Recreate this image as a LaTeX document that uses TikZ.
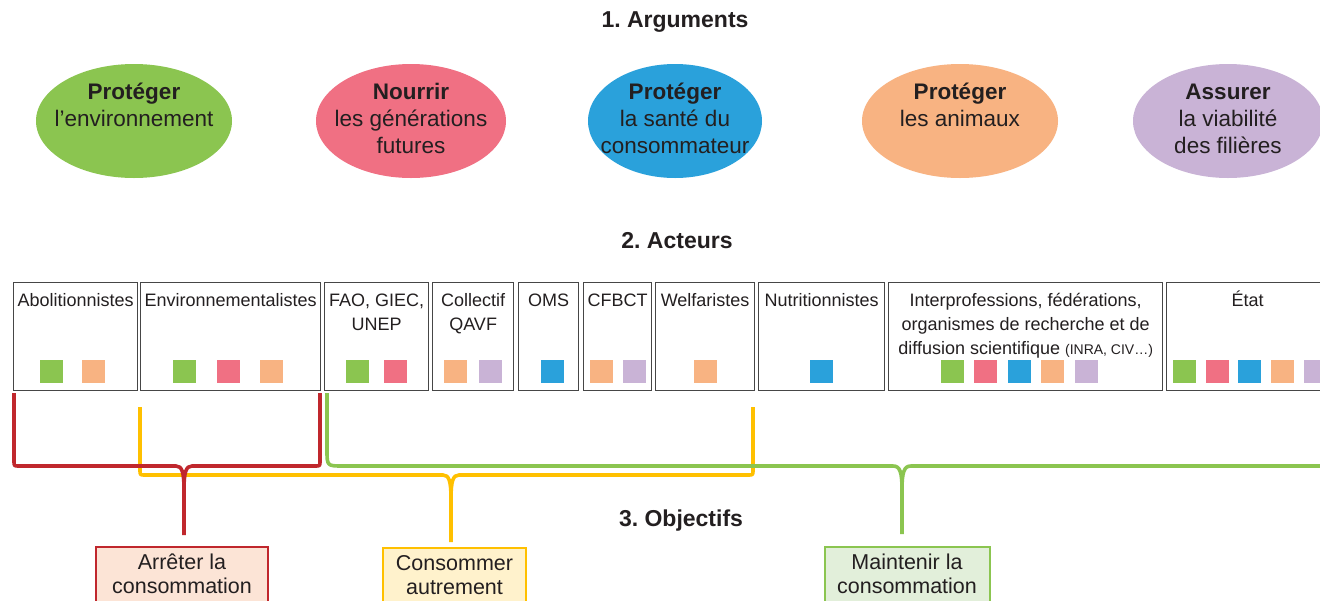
\documentclass[tikz,border=0pt]{standalone}
\usepackage{fontspec}
\setmainfont{Liberation Sans}
\usetikzlibrary{shapes.geometric,calc}
\frenchspacing
\definecolor{cgreen}{RGB}{139,197,80}
\definecolor{cpink}{RGB}{240,112,131}
\definecolor{cblue}{RGB}{42,161,219}
\definecolor{corange}{RGB}{248,179,130}
\definecolor{cpurple}{RGB}{201,179,214}
\definecolor{bred}{RGB}{192,39,45}
\definecolor{byellow}{RGB}{255,192,0}
\definecolor{bgreen}{RGB}{139,197,80}
\definecolor{txt}{RGB}{35,31,32}
\definecolor{boxline}{RGB}{70,70,70}
\definecolor{fred}{RGB}{252,228,214}
\definecolor{fyellow}{RGB}{255,242,204}
\definecolor{fgreen}{RGB}{226,239,218}
\begin{document}
\begin{tikzpicture}[x=1pt,y=-1pt,
  title/.style={font=\fontsize{23}{27}\selectfont\bfseries, text=txt, inner sep=0},
  argell/.style={ellipse, draw=none, inner sep=0, minimum height=114},
  argtext/.style={inner sep=0, align=center, font=\fontsize{22.5}{27}\selectfont, text=txt},
  actbox/.style={draw=boxline, line width=1.3pt, inner sep=0, minimum height=108, anchor=north west},
  acttext/.style={inner sep=0, align=center, font=\fontsize{18}{24}\selectfont, text=txt, anchor=north},
  sq/.style={inner sep=0, minimum size=23, draw=none},
  objbox/.style={line width=2pt, anchor=north, align=center, inner xsep=2, inner ysep=6, font=\fontsize{21.5}{24}\selectfont, text=txt},
  brk/.style={line width=3.6pt, line join=round}
]
\clip (0,0) rectangle (1320,600);
\fill[white] (0,0) rectangle (1320,600);

% Titles
\node[title] (t1) at (675,22) {1. Arguments};
\node[title] (t2) at (677,241) {2. Acteurs};
\node[title] (t3) at (681,521) {3. Objectifs};

% Arguments
\node[argell, fill=cgreen, minimum width=196] (e1) at (134,121) {};
\node[argell, fill=cpink, minimum width=190] (e2) at (411,121) {};
\node[argell, fill=cblue, minimum width=174] (e3) at (675,121) {};
\node[argell, fill=corange, minimum width=196] (e4) at (960,121) {};
\node[argell, fill=cpurple, minimum width=190] (e5) at (1228,121) {};
\node[argtext] (a1) at (e1.center) {\strut\textbf{Protéger}\\\strut l’environnement\\\strut};
\node[argtext] (a2) at (e2.center) {\strut\textbf{Nourrir}\\\strut les générations\\\strut futures};
\node[argtext] (a3) at (e3.center) {\strut\textbf{Protéger}\\\strut la santé du\\\strut consommateur};
\node[argtext] (a4) at (e4.center) {\strut\textbf{Protéger}\\\strut les animaux\\\strut};
\node[argtext] (a5) at (e5.center) {\strut\textbf{Assurer}\\\strut la viabilité\\\strut des filières};

% Actors boxes
\node[actbox, minimum width=124] (b1) at (13,282) {};
\node[actbox, minimum width=180] (b2) at (140,282) {};
\node[actbox, minimum width=104] (b3) at (324,282) {};
\node[actbox, minimum width=81] (b4) at (432,282) {};
\node[actbox, minimum width=60] (b5) at (518,282) {};
\node[actbox, minimum width=68] (b6) at (583,282) {};
\node[actbox, minimum width=99] (b7) at (655,282) {};
\node[actbox, minimum width=126] (b8) at (758,282) {};
\node[actbox, minimum width=274] (b9) at (888,282) {};
\node[actbox, minimum width=162] (b10) at (1166,282) {};

\node[acttext] (l1) at ($(b1.north)+(0,7)$) {\strut Abolitionnistes};
\node[acttext] (l2) at ($(b2.north)+(0,7)$) {\strut Environnementalistes};
\node[acttext] (l3) at ($(b3.north)+(0,7)$) {\strut FAO, GIEC,\\\strut UNEP};
\node[acttext] (l4) at ($(b4.north)+(0,7)$) {\strut Collectif\\\strut QAVF};
\node[acttext] (l5) at ($(b5.north)+(0,7)$) {\strut OMS};
\node[acttext] (l6) at ($(b6.north)+(0,7)$) {\strut CFBCT};
\node[acttext] (l7) at ($(b7.north)+(0,7)$) {\strut Welfaristes};
\node[acttext] (l8) at ($(b8.north)+(0,7)$) {\strut Nutritionnistes};
\node[acttext] (l9) at ($(b9.north)+(0,7)$) {\strut Interprofessions, fédérations,\\\strut organismes de recherche et de\\\strut diffusion scientifique {\fontsize{14}{24}\selectfont(INRA, CIV…)}};
\node[acttext] (l10) at ($(b10.north)+(0,7)$) {\strut État};

% Colour squares
\foreach \nm/\xx/\cc in {
  a1/51/cgreen, a2/93/corange,
  b1/184/cgreen, b2/228/cpink, b3/271/corange,
  c1/357/cgreen, c2/395/cpink,
  d1/455/corange, d2/490/cpurple,
  e1/552/cblue,
  f1/601/corange, f2/634/cpurple,
  g1/705/corange,
  h1/821/cblue,
  i1/952/cgreen, i2/985/cpink, i3/1019/cblue, i4/1052/corange, i5/1086/cpurple,
  j1/1184/cgreen, j2/1217/cpink, j3/1249/cblue, j4/1282/corange, j5/1315/cpurple}
  \node[sq, fill=\cc] (sq-\nm) at (\xx,371) {};

% Objective boxes
\node[objbox, draw=bred, fill=fred, minimum width=172] (o1) at (182,546) {\strut Arrêter la\\\strut consommation};
\node[objbox, draw=byellow, fill=fyellow, minimum width=143] (o2) at (454.5,547) {\strut Consommer\\\strut autrement};
\node[objbox, draw=bgreen, fill=fgreen, minimum width=165] (o3) at (907,546) {\strut Maintenir la\\\strut consommation};

% Bracket end coordinates
\coordinate (rA) at (14,393);
\coordinate (rB) at (320,393);
\coordinate (rT) at (184,535);
\coordinate (yA) at (140,407);
\coordinate (yB) at (753,407);
\coordinate (yT) at (451,542);
\coordinate (gA) at (327,393);
\coordinate (gB) at (1330,466);
\coordinate (gT) at (902,534);

% Yellow bracket
\draw[brk, byellow] (yA) -- (140,470) .. controls (140,475) .. (145,475) -- (443,475)
  .. controls (449,475) and (451,481) .. (451,499) -- (yT);
\draw[brk, byellow] (yB) -- (753,470) .. controls (753,475) .. (748,475) -- (459,475)
  .. controls (453,475) and (451,481) .. (451,499);
% Red bracket
\draw[brk, bred] (rA) -- (14,461) .. controls (14,466) .. (19,466) -- (176,466)
  .. controls (182,466) and (184,472) .. (184,490) -- (rT);
\draw[brk, bred] (rB) -- (320,461) .. controls (320,466) .. (315,466) -- (192,466)
  .. controls (186,466) and (184,472) .. (184,490);
% Green bracket
\draw[brk, bgreen] (gA) -- (327,450) .. controls (327,466) .. (343,466) -- (893,466)
  .. controls (900,466) and (902,472) .. (902,490) -- (gT);
\draw[brk, bgreen] (gB) -- (911,466)
  .. controls (904,466) and (902,472) .. (902,490);
\end{tikzpicture}
\end{document}
